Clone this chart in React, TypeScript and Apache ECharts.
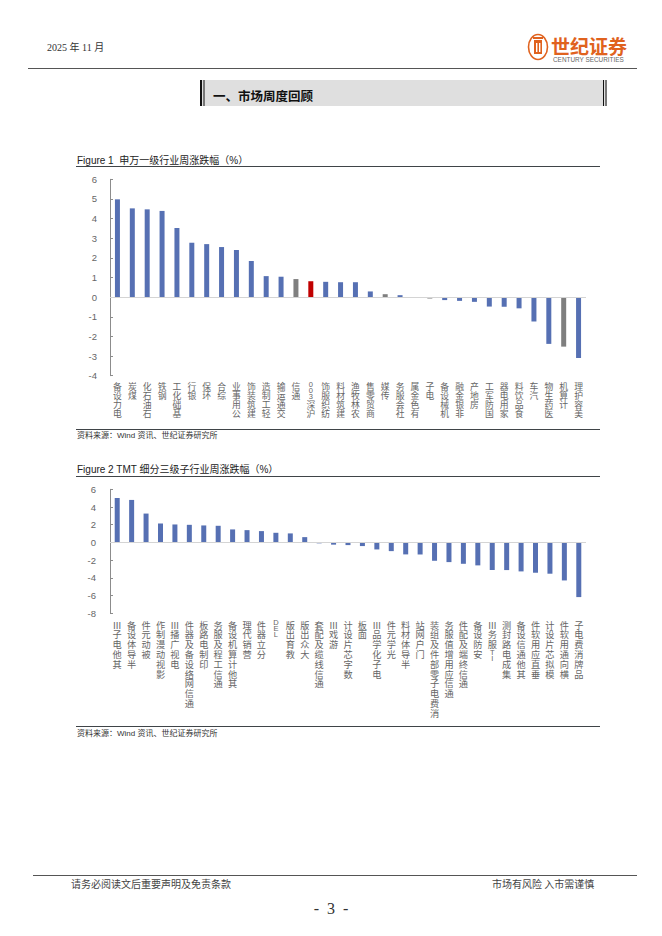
import React, { useEffect, useRef } from 'react';
import * as echarts from 'echarts';

// ---------- Figure 1 data: 申万一级行业周涨跌幅 (%) ----------
const fig1Categories = [
  '电力设备', '煤炭', '石油石化', '钢铁', '基础化工', '银行', '环保', '综合',
  '公用事业', '建筑装饰', '轻工制造', '交通运输', '通信', '沪深300', '纺织服饰',
  '建筑材料', '农林牧渔', '商贸零售', '传媒', '社会服务', '有色金属', '电子',
  '机械设备', '非银金融', '房地产', '国防军工', '家用电器', '食品饮料', '汽车',
  '医药生物', '计算机', '美容护理',
];
const fig1Values = [
  4.98, 4.52, 4.47, 4.39, 3.52, 2.77, 2.70, 2.55,
  2.40, 1.84, 1.07, 1.04, 0.92, 0.81, 0.78,
  0.76, 0.76, 0.29, 0.15, 0.10, -0.03, -0.07,
  -0.15, -0.19, -0.24, -0.48, -0.49, -0.57, -1.24,
  -2.38, -2.52, -3.10,
];
const fig1YTicks = { min: -4, max: 6, step: 1 };

// ---------- Figure 2 data: TMT 细分三级子行业周涨跌幅 (%) ----------
const fig2Categories = [
  '其他电子Ⅲ', '半导体设备', '被动元件', '影视动漫制作', '电视广播Ⅲ', '通信网络设备及器件',
  '印制电路板', '通信工程及服务', '其他计算机设备', '营销代理', '分立器件', 'LED',
  '教育出版', '大众出版', '通信线缆及配套', '游戏Ⅲ', '数字芯片设计', '面板',
  '电子化学品Ⅲ', '光学元件', '半导体材料', '门户网站', '消费电子零部件及组装',
  '通信应用增值服务', '通信终端及配件', '安防设备', 'IT服务Ⅲ', '集成电路封测',
  '其他通信设备', '垂直应用软件', '模拟芯片设计', '横向通用软件', '品牌消费电子',
];
const fig2Values = [
  5.02, 4.80, 3.26, 2.14, 2.03, 1.99,
  1.92, 1.88, 1.47, 1.39, 1.28, 1.09,
  1.02, 0.60, -0.10, -0.25, -0.30, -0.41,
  -0.79, -0.98, -1.35, -1.36, -2.07,
  -2.22, -2.41, -2.59, -3.11, -3.12,
  -3.27, -3.42, -3.53, -4.29, -6.17,
];
const fig2YTicks = { min: -8, max: 6, step: 2 };

// category groups that are drawn in other colours
const grayGroup = ['通信', '传媒', '电子', '计算机'];
const benchmarkGroup = ['沪深300'];

const BLUE = '#5670b3';
const GRAY = '#7f7f7f';
const RED = '#c00000';
const LABEL = '#666666';
const CJK = '"Noto Sans CJK SC", sans-serif';
const SANS = '"Liberation Sans", Arial, sans-serif';
const MIXED = '"Liberation Sans", "Noto Sans CJK SC", sans-serif';
const SERIF = '"Liberation Serif", "Noto Sans CJK SC", serif';

// vertical label: upright CJK characters read from bottom to top, end of text at the axis
function verticalLabel(label: string): string {
  const tokens = label.match(/[A-Za-z0-9]+|./gu) || [];
  const lines: string[] = [];
  tokens.slice().reverse().forEach((t) => {
    if (/^[A-Za-z0-9]+$/.test(t)) {
      t.split('').reverse().forEach((ch) => lines.push(`{n|${ch}}`));
    } else {
      lines.push(`{c|${t}}`);
    }
  });
  return lines.join('\n');
}

function barData(cats: string[], vals: number[]) {
  return vals.map((v, i) => {
    const c = cats[i];
    let color = BLUE;
    if (grayGroup.includes(c)) color = GRAY;
    if (benchmarkGroup.includes(c)) color = RED;
    return { value: v, itemStyle: { color } };
  });
}

function richFor(size: number, lh: number) {
  return {
    c: { fontSize: size, lineHeight: lh, fontFamily: CJK, color: LABEL },
    n: { fontSize: 7.5, lineHeight: 6, fontFamily: SANS, color: LABEL },
  };
}

const yAxisBase = (gridIndex: number, t: { min: number; max: number; step: number }, margin: number) => ({
  gridIndex,
  type: 'value' as const,
  min: t.min,
  max: t.max,
  interval: t.step,
  splitLine: { show: false },
  axisLine: { show: true, lineStyle: { color: '#8c8c8c', width: 1 } },
  axisTick: { show: true, inside: true, length: 3, lineStyle: { color: '#8c8c8c' } },
  axisLabel: { color: LABEL, fontSize: 9.5, fontFamily: SANS, margin },
});

const zeroLine = {
  silent: true,
  symbol: ['none', 'none'],
  label: { show: false },
  lineStyle: { color: '#d4d4d4', type: 'solid' as const, width: 1 },
  data: [{ yAxis: 0 }],
};

const darkLine = (x1: number, x2: number, y: number, w = 1, color = '#3f4448') => ({
  type: 'line',
  shape: { x1, y1: y, x2, y2: y },
  style: { stroke: color, lineWidth: w },
  silent: true,
});

const txt = (x: number, y: number, text: string, font: string, extra: any = {}) => ({
  type: 'text',
  x,
  y,
  style: { text, font, fill: '#333', textVerticalAlign: 'middle', ...extra },
  silent: true,
});

export default function App() {
  const ref = useRef<HTMLDivElement>(null);
  useEffect(() => {
    const chart = echarts.init(ref.current!, null, { renderer: 'svg' });
    const option: any = {
      animation: false,
      backgroundColor: '#ffffff',
      grid: [
        { left: 110, top: 179.3, width: 476, height: 196.4 },
        { left: 110, top: 489.3, width: 476, height: 124 },
      ],
      xAxis: [
        {
          gridIndex: 0,
          type: 'category',
          data: fig1Categories,
          axisLine: { show: false, onZero: false },
          axisTick: { show: false },
          axisLabel: { interval: 0, margin: 6, formatter: verticalLabel, rich: richFor(8.8, 9.2) },
        },
        {
          gridIndex: 1,
          type: 'category',
          data: fig2Categories,
          axisLine: { show: false, onZero: false },
          axisTick: { show: false },
          axisLabel: { interval: 0, margin: 6.5, formatter: verticalLabel, rich: richFor(9.2, 9.8) },
        },
      ],
      yAxis: [yAxisBase(0, fig1YTicks, 13), yAxisBase(1, fig2YTicks, 14)],
      series: [
        {
          type: 'bar',
          xAxisIndex: 0,
          yAxisIndex: 0,
          barWidth: 5,
          data: barData(fig1Categories, fig1Values),
          markLine: zeroLine,
        },
        {
          type: 'bar',
          xAxisIndex: 1,
          yAxisIndex: 1,
          barWidth: 5,
          data: barData(fig2Categories, fig2Values),
          markLine: zeroLine,
        },
      ],
      graphic: {
        elements: [
          // page header
          txt(47, 47, '2025 年 11 月', `10px ${SERIF}`, { fill: '#333' }),
          {
            type: 'ellipse',
            shape: { cx: 538, cy: 47, rx: 9.5, ry: 12.5 },
            style: { fill: 'none', stroke: '#e0621e', lineWidth: 1.6 },
            silent: true,
          },
          { type: 'rect', shape: { x: 534, y: 40, width: 8, height: 14 }, style: { fill: '#e0621e' }, silent: true },
          { type: 'rect', shape: { x: 536, y: 43, width: 1.4, height: 9 }, style: { fill: '#fff' }, silent: true },
          { type: 'rect', shape: { x: 539, y: 43, width: 1.4, height: 9 }, style: { fill: '#fff' }, silent: true },
          { type: 'rect', shape: { x: 533, y: 37, width: 10, height: 2 }, style: { fill: '#e0621e' }, silent: true },
          txt(551, 45, '世纪证券', `bold 19px ${CJK}`, { fill: '#e0621e' }),
          txt(553, 59.5, 'CENTURY SECURITIES', `6.4px ${SANS}`, { fill: '#666' }),
          darkLine(28, 637, 68.5, 1, '#555'),

          // section title box
          { type: 'rect', shape: { x: 200, y: 80, width: 407, height: 26 }, style: { fill: '#dfdfdf' }, silent: true },
          { type: 'line', shape: { x1: 201, y1: 80, x2: 201, y2: 106 }, style: { stroke: '#111', lineWidth: 2 }, silent: true },
          { type: 'line', shape: { x1: 204, y1: 80, x2: 204, y2: 106 }, style: { stroke: '#111', lineWidth: 1 }, silent: true },
          { type: 'line', shape: { x1: 603.5, y1: 80, x2: 603.5, y2: 106 }, style: { stroke: '#111', lineWidth: 1 }, silent: true },
          { type: 'line', shape: { x1: 606, y1: 80, x2: 606, y2: 106 }, style: { stroke: '#111', lineWidth: 1 }, silent: true },
          txt(213, 95, '一、市场周度回顾', `bold 12.5px ${CJK}`, { fill: '#111' }),

          // figure 1 frame
          txt(77, 160, 'Figure 1  申万一级行业周涨跌幅（%）', `10px ${MIXED}`, { fill: '#222' }),
          darkLine(76, 600, 166.5),
          darkLine(76, 600, 429.5),
          txt(77, 435, '资料来源：Wind 资讯、世纪证券研究所', `8px ${MIXED}`, { fill: '#333' }),

          // figure 2 frame
          txt(77, 469, 'Figure 2 TMT 细分三级子行业周涨跌幅（%）', `10px ${MIXED}`, { fill: '#222' }),
          darkLine(76, 600, 476.5),
          darkLine(76, 600, 726.5),
          txt(77, 733, '资料来源：Wind 资讯、世纪证券研究所', `8px ${MIXED}`, { fill: '#333' }),

          // footer
          darkLine(33, 637, 875.5, 1, '#555'),
          txt(71, 883, '请务必阅读文后重要声明及免责条款', `10px ${CJK}`, { fill: '#444' }),
          txt(492, 883, '市场有风险 入市需谨慎', `10px ${CJK}`, { fill: '#444' }),
          txt(331, 908, '-  3  -', `16px ${SERIF}`, { fill: '#333', textAlign: 'center' }),
        ],
      },
    };
    chart.setOption(option);
    return () => chart.dispose();
  }, []);
  return (
    <div
      ref={ref}
      style={{ position: 'absolute', left: 0, top: 0, width: 662, height: 936, background: '#fff' }}
    />
  );
}
